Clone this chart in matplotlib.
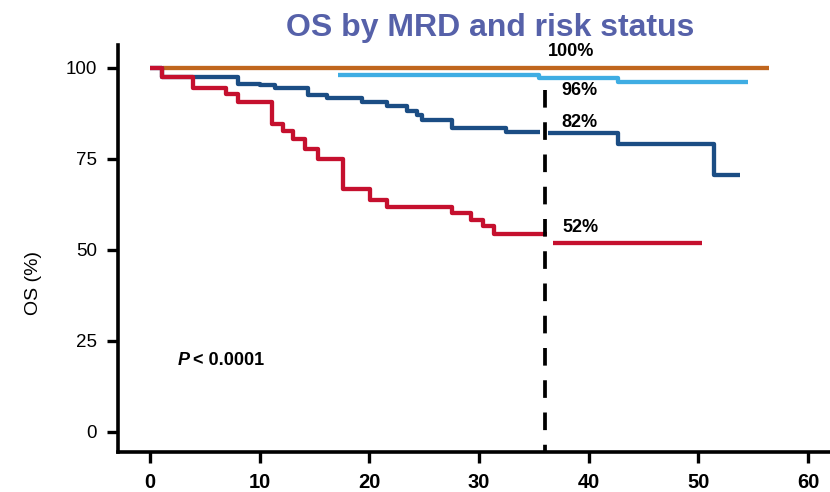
import numpy as np
import matplotlib
matplotlib.use("Agg")
import matplotlib.pyplot as plt

plt.rcParams['font.family'] = ['Liberation Sans', 'DejaVu Sans']

# Kaplan-Meier style OS estimates (months, %), split at the 36-month landmark
orange_t = [1.2, 56.4]
orange_s = [100, 100]

ltblue_t = [17.1, 35.5, 42.7, 54.5]
ltblue_s = [98.1, 97.2, 96.0, 96.0]

blue_t = [0, 1.07, 8.05, 10.0, 11.4, 14.4, 16.1, 19.3, 21.6, 23.4, 24.3, 24.8,
          27.5, 32.5, 35.6]
blue_s = [100, 97.6, 95.6, 95.2, 94.5, 92.6, 91.7, 90.7, 89.6, 88.3, 87.2, 85.8,
          83.5, 82.5, 82.5]
blue_post_t = [36.3, 42.7, 51.4, 53.8]
blue_post_s = [82, 79.0, 70.7, 70.7]

red_t = [0, 1.07, 3.95, 6.9, 8.05, 11.1, 12.1, 13.0, 14.1, 15.3, 17.6, 20.1,
         21.6, 27.5, 29.3, 30.4, 31.4, 36.2]
red_s = [100, 97.6, 94.5, 92.8, 90.7, 84.5, 82.8, 80.4, 77.8, 74.9, 66.8, 63.6,
         61.9, 60.1, 58.3, 56.5, 54.5, 54.5]
red_post_t = [36.7, 50.3]
red_post_s = [52, 52]

landmark = 36
xticks = [0, 10, 20, 30, 40, 50, 60]
yticks = [0, 25, 50, 75, 100]

c_orange = '#C0661E'
c_ltblue = '#3FADE3'
c_blue = '#1B4D84'
c_red = '#C5102E'

fig = plt.figure(figsize=(8.3, 4.92), dpi=100)
ax = fig.add_axes([118 / 830, 40 / 492, 712 / 830, 407 / 492])

lw = 3.1
ax.step(orange_t, orange_s, where='post', color=c_orange, lw=lw, solid_capstyle='butt')
ax.step(ltblue_t, ltblue_s, where='post', color=c_ltblue, lw=lw, solid_capstyle='butt')
ax.step(blue_t, blue_s, where='post', color=c_blue, lw=lw, solid_capstyle='butt')
ax.step(blue_post_t, blue_post_s, where='post', color=c_blue, lw=lw, solid_capstyle='butt')
ax.step(red_t, red_s, where='post', color=c_red, lw=lw, solid_capstyle='butt')
ax.step(red_post_t, red_post_s, where='post', color=c_red, lw=lw, solid_capstyle='butt')

# landmark line
ax.plot([landmark, landmark], [94, -5.5], color='black', lw=2.7,
        linestyle=(0, (4.7, 3.9)), dash_capstyle='butt', zorder=5)

# survival at landmark
lab = dict(fontsize=13, fontweight='bold', ha='left', va='center', color='black')
ax.text(36.3, 104.6, '100%', **lab)
ax.text(37.5, 93.9, '96%', **lab)
ax.text(37.5, 85.0, '82%', **lab)
ax.text(37.6, 56.3, '52%', **lab)

ax.text(2.5, 19.5, 'P', fontsize=13, fontweight='bold', style='italic',
        ha='left', va='center')
ax.text(3.92, 19.5, '< 0.0001', fontsize=13, fontweight='bold',
        ha='left', va='center')

ax.set_xlim(-2.92, 62.0)
ax.set_ylim(-5.5, 106.3)
ax.set_xticks(xticks)
ax.set_yticks(yticks)
ax.set_xticklabels([str(v) for v in xticks], fontsize=14.5, fontweight='bold')
ax.set_yticklabels([str(v) for v in yticks], fontsize=13.5)
ax.tick_params(axis='both', direction='out', length=8, width=2.4, pad=7)

for side in ['top', 'right']:
    ax.spines[side].set_visible(False)
for side in ['left', 'bottom']:
    ax.spines[side].set_linewidth(2.6)

ax.set_ylabel('OS (%)', fontsize=14)
ax.yaxis.set_label_coords(-0.107, 0.415)

fig.text(490 / 830, 1 - 36 / 492, 'OS by MRD and risk status', fontsize=23,
         fontweight='bold', color='#5661A9', ha='center', va='baseline')

fig.savefig('out.png', dpi=100)
